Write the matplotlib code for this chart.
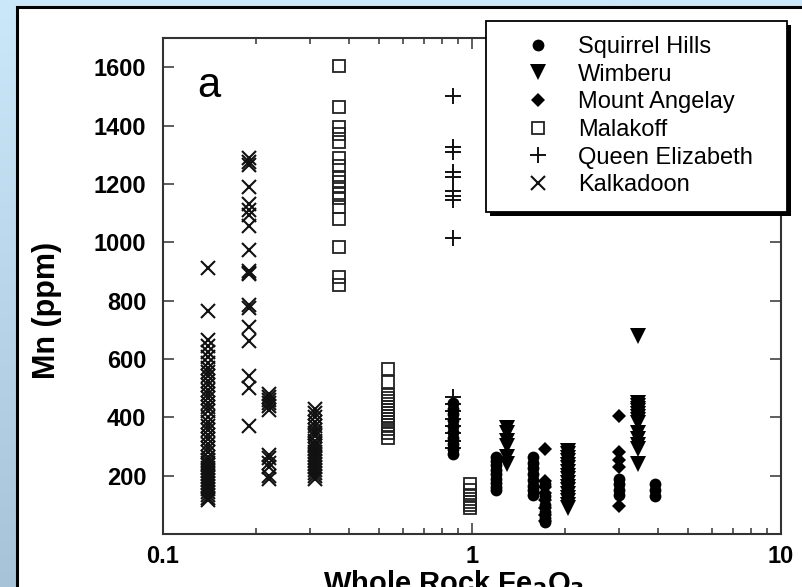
import numpy as np
import matplotlib
matplotlib.use("Agg")
import matplotlib.pyplot as plt
from matplotlib.patches import Rectangle
from matplotlib.lines import Line2D
from matplotlib.colors import LinearSegmentedColormap
from matplotlib.ticker import FixedLocator, FixedFormatter, NullFormatter

plt.rcParams["font.family"] = ["Liberation Sans", "DejaVu Sans"]

# Whole-rock Fe2O3 (wt%) -> Mn (ppm) for each suite
kalkadoon = {
    0.14: [910, 765, 665, 645, 625, 605, 585, 570, 555, 540, 525, 510, 495, 480,
           465, 450, 435, 420, 400, 385, 370, 355, 340, 325, 310, 295, 280, 265,
           255, 245, 235, 225, 215, 205, 195, 185, 175, 165, 155, 145, 135, 125, 115],
    0.19: [1290, 1275, 1265, 1190, 1130, 1110, 1095, 1055, 975, 900, 895, 890,
           785, 775, 710, 660, 540, 500, 370],
    0.22: [480, 470, 460, 450, 440, 425, 270, 260, 245, 230, 200, 190],
    0.31: [430, 415, 400, 385, 370, 355, 345, 335, 320, 310, 300, 290, 280, 270,
           260, 250, 240, 230, 220, 210, 200, 190],
}
malakoff = {
    0.37: [1605, 1465, 1395, 1370, 1345, 1290, 1260, 1225, 1205, 1190, 1170, 1150,
           1120, 1080, 985, 880, 855],
    0.535: [565, 520, 475, 465, 455, 445, 435, 425, 415, 405, 395, 385, 375, 360,
            345, 330],
    0.985: [170, 150, 135, 120, 110, 100, 90],
}
queen_elizabeth = {
    0.868: [1500, 1325, 1310, 1240, 1225, 1175, 1160, 1145, 1015,
            470, 445, 420, 395, 370, 345, 320, 295],
}
squirrel_hills = {
    0.868: [450, 430, 410, 390, 370, 350, 330, 310, 290, 275],
    1.2: [265, 250, 235, 220, 205, 190, 175, 160, 150],
    1.57: [265, 245, 225, 205, 185, 165, 150, 135],
    1.72: [170, 130, 100, 75, 55, 40],
    3.0: [190, 170, 150, 135],
    3.9: [170, 150, 130],
}
mount_angelay = {
    1.72: [290, 180, 160, 140, 115, 90, 65, 45],
    3.0: [405, 280, 255, 230, 95],
}
wimberu = {
    1.3: [365, 345, 320, 300, 265, 240],
    2.05: [285, 275, 262, 250, 238, 225, 212, 200, 188, 175, 162, 150, 138, 125,
           112, 100, 90],
    3.45: [680, 450, 440, 430, 420, 410, 400, 390, 380, 345, 325, 305, 290, 240],
}

series_names = ["Squirrel Hills", "Wimberu", "Mount Angelay", "Malakoff",
                "Queen Elizabeth", "Kalkadoon"]
y_ticks = [200, 400, 600, 800, 1000, 1200, 1400, 1600]
x_ticks = [0.1, 1, 10]
x_tick_labels = ["0.1", "1", "10"]

W, H = 803, 587
fig = plt.figure(figsize=(W / 100, H / 100), dpi=100)

# blue backdrop and white sheet
bg = fig.add_axes([0, 0, 1, 1], zorder=-10)
grad = np.linspace(0, 1, 256)[:, None]
bg.imshow(grad, aspect="auto", extent=[0, 1, 0, 1], origin="upper",
          cmap=LinearSegmentedColormap.from_list("bg", ["#cbe8fb", "#a6c3d8"]))
bg.set_xlim(0, 1)
bg.set_ylim(0, 1)
bg.axis("off")
bg.add_patch(Rectangle((17 / W, -0.1), 1.2, (1 - 7 / H) + 0.1,
                       transform=fig.transFigure, fc="white", ec="black",
                       lw=2.2, clip_on=False))

ax = fig.add_axes([163 / W, 1 - 534 / H, (781 - 163) / W, (534 - 38) / H])
ax.set_xscale("log")
ax.set_xlim(0.1, 10)
ax.set_ylim(0, 1700)

styles = {
    "Kalkadoon": dict(marker="x", ms=10, mew=1.5, mfc="none", mec="#111111"),
    "Malakoff": dict(marker="s", ms=8.5, mew=1.3, mfc="none", mec="#222222"),
    "Queen Elizabeth": dict(marker="+", ms=11, mew=1.4, mec="#111111"),
    "Squirrel Hills": dict(marker="o", ms=8.5, mew=0, mfc="black"),
    "Mount Angelay": dict(marker="D", ms=7.5, mew=0, mfc="black"),
    "Wimberu": dict(marker="v", ms=11, mew=0, mfc="black"),
}
data = {
    "Kalkadoon": kalkadoon,
    "Malakoff": malakoff,
    "Queen Elizabeth": queen_elizabeth,
    "Squirrel Hills": squirrel_hills,
    "Mount Angelay": mount_angelay,
    "Wimberu": wimberu,
}
for name in ["Kalkadoon", "Malakoff", "Queen Elizabeth", "Squirrel Hills",
             "Mount Angelay", "Wimberu"]:
    for fe, mn in data[name].items():
        ax.plot([fe] * len(mn), mn, ls="none", **styles[name])

spine_c = "#333333"
for s in ax.spines.values():
    s.set_color(spine_c)
    s.set_linewidth(1.5)

ax.xaxis.set_major_locator(FixedLocator(x_ticks))
ax.xaxis.set_major_formatter(FixedFormatter(x_tick_labels))
minor = [m * d for d in (0.1, 1) for m in range(2, 10)]
ax.xaxis.set_minor_locator(FixedLocator(minor))
ax.xaxis.set_minor_formatter(NullFormatter())
ax.yaxis.set_major_locator(FixedLocator(y_ticks))
ax.tick_params(which="both", direction="in", top=True, right=True,
               color=spine_c, width=1.1)
ax.tick_params(which="major", length=8)
ax.tick_params(which="minor", length=4)
ax.tick_params(axis="y", which="major", pad=12)
ax.tick_params(axis="x", which="major", pad=8)
for lab in ax.get_xticklabels() + ax.get_yticklabels():
    lab.set_fontsize(17)
    lab.set_fontweight("bold")

ax.set_ylabel("Mn (ppm)", fontsize=22, fontweight="bold")
ax.yaxis.set_label_coords(-0.163, 0.4516)
ax.set_xlabel("Whole Rock Fe$_\\mathbf{2}$O$_\\mathbf{3}$", fontsize=21,
              fontweight="bold")
ax.xaxis.set_label_coords(0.47, -0.068)

ax.text(0.074, 0.903, "a", transform=ax.transAxes, fontsize=30,
        ha="center", va="center")

# legend box with a hard drop shadow
lx0, lx1, ly0, ly1 = 486, 787, 21, 212
fig.add_artist(Rectangle((lx0 / W + 4 / W, 1 - ly1 / H - 4 / H),
                         (lx1 - lx0) / W, (ly1 - ly0) / H,
                         transform=fig.transFigure, fc="black", ec="black",
                         lw=0, zorder=5))
fig.add_artist(Rectangle((lx0 / W, 1 - ly1 / H), (lx1 - lx0) / W,
                         (ly1 - ly0) / H, transform=fig.transFigure,
                         fc="white", ec="black", lw=1.3, zorder=6))
handles = []
for name in series_names:
    st = dict(styles[name])
    handles.append(Line2D([], [], ls="none", color="black", **st))
leg = fig.legend(handles, series_names, loc="upper left",
                 bbox_to_anchor=(526 / W, 1 - 36 / H), frameon=False,
                 fontsize=17, handlelength=1.0, handletextpad=1.2,
                 labelspacing=0.24, borderpad=0, borderaxespad=0)
leg.set_zorder(7)

fig.savefig("out.png", dpi=100)
